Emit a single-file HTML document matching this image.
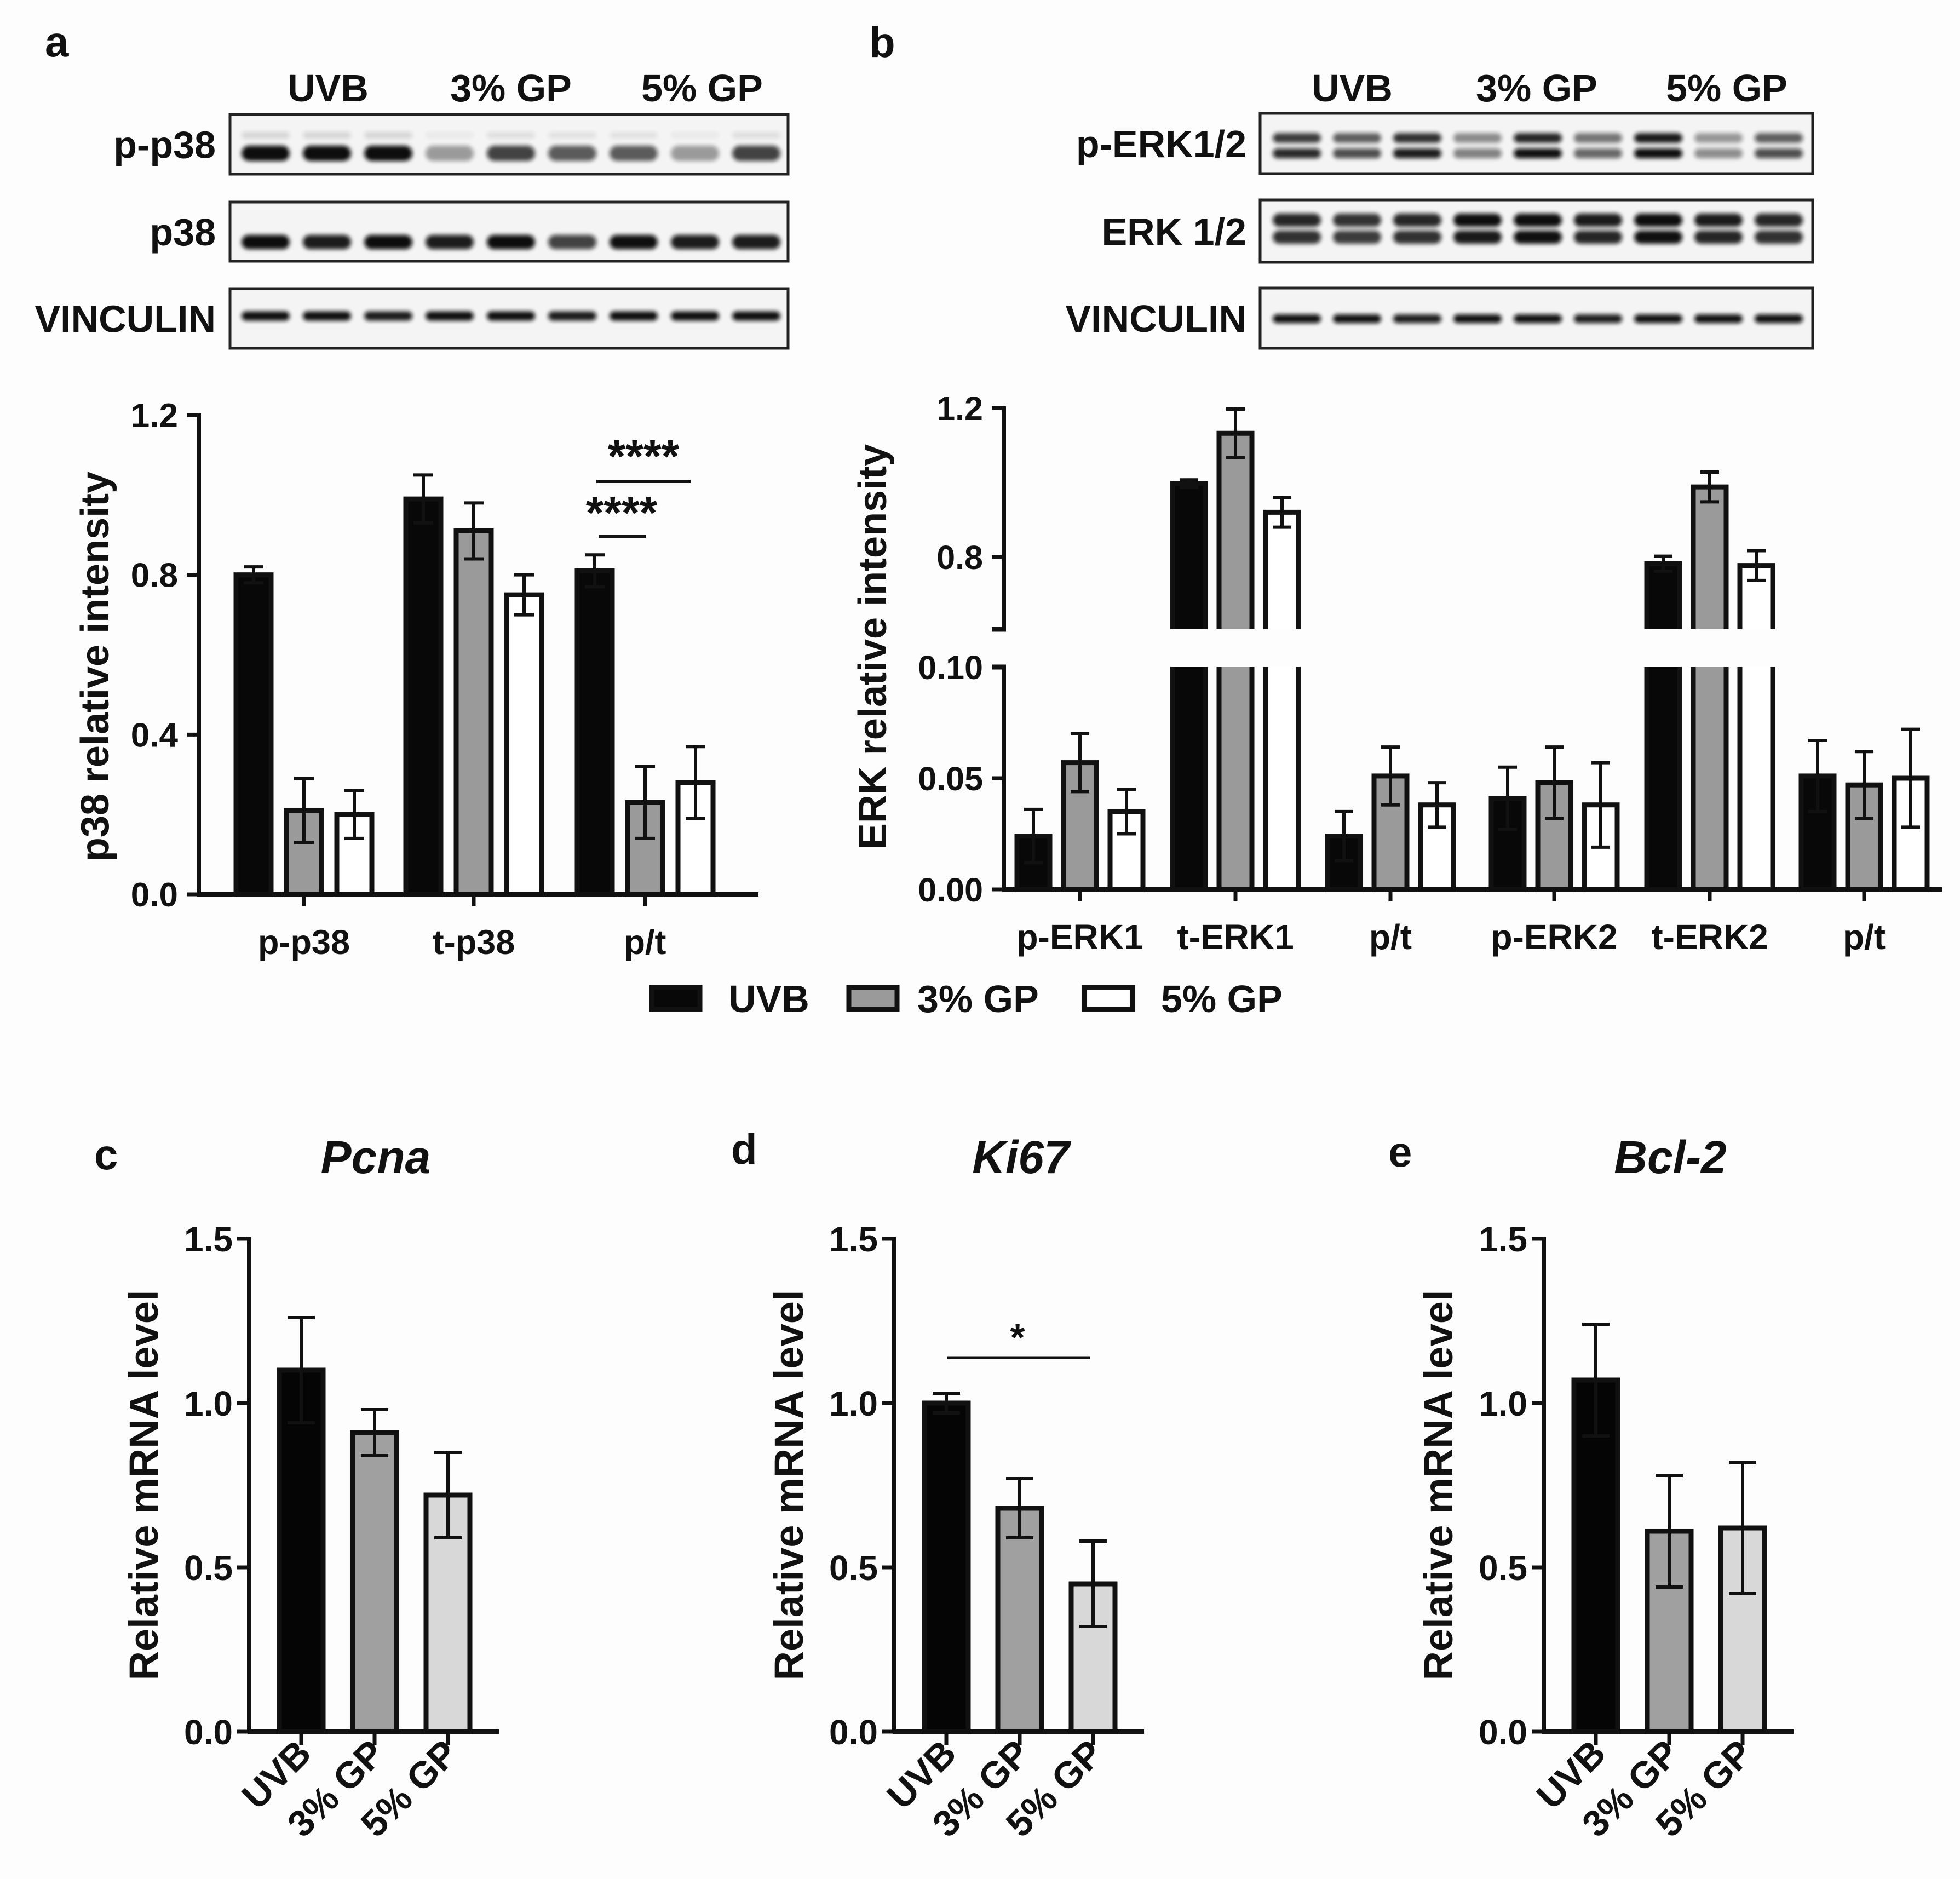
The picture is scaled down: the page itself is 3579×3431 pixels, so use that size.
<!DOCTYPE html>
<html><head><meta charset="utf-8"><style>
html,body{margin:0;padding:0;background:#fff}
svg{display:block}
text{font-family:"Liberation Sans",Arial,sans-serif;font-weight:bold;fill:#111}
</style></head><body>
<svg id="fig" xmlns="http://www.w3.org/2000/svg" width="3579" height="3431" viewBox="0 0 3579 3431">
<defs><filter id="blur" x="-20%" y="-100%" width="140%" height="300%"><feGaussianBlur stdDeviation="4"/></filter></defs>
<rect x="0" y="0" width="3579" height="3431" fill="#fdfdfd"/>
</svg>
<script>
// ---------- data ----------
const groupsA = ["p-p38","t-p38","p/t"];
const uvbA = [0.80,0.99,0.81];
const gp3A = [0.21,0.91,0.23];
const gp5A = [0.20,0.75,0.28];
const uvbAErr = [0.02,0.06,0.04];
const gp3AErr = [0.08,0.07,0.09];
const gp5AErr = [0.06,0.05,0.09];
const ticksA = [0.0,0.4,0.8,1.2];
const tickLabelsA = ["0.0","0.4","0.8","1.2"];

const groupsB = ["p-ERK1","t-ERK1","p/t","p-ERK2","t-ERK2","p/t"];
const uvbB = [0.024,0.997,0.024,0.041,0.782,0.051];
const gp3B = [0.057,1.132,0.051,0.048,0.988,0.047];
const gp5B = [0.035,0.920,0.038,0.038,0.777,0.050];
const uvbBErr = [0.012,0.01,0.011,0.014,0.02,0.016];
const gp3BErr = [0.013,0.065,0.013,0.016,0.04,0.015];
const gp5BErr = [0.010,0.04,0.010,0.019,0.04,0.022];
const ticksBLow = [0.00,0.05,0.10];
const tickLabelsBLow = ["0.00","0.05","0.10"];
const ticksBHigh = [0.8,1.2];
const tickLabelsBHigh = ["0.8","1.2"];

const mrnaCats = ["UVB","3% GP","5% GP"];
const pcnaVals = [1.10,0.91,0.72];
const pcnaErr = [0.16,0.07,0.13];
const ki67Vals = [1.00,0.68,0.45];
const ki67Err = [0.03,0.09,0.13];
const bcl2Vals = [1.07,0.61,0.62];
const bcl2Err = [0.17,0.17,0.20];
const ticksM = [0.0,0.5,1.0,1.5];
const tickLabelsM = ["0.0","0.5","1.0","1.5"];

const blotPp38 = [1,1,1,0.35,0.7,0.6,0.6,0.35,0.7];
const blotP38 = [1,0.85,0.95,0.85,1,0.7,0.9,0.85,0.85];
const blotPerk = [0.8,0.65,0.85,0.45,0.9,0.55,0.95,0.4,0.65];
const blotErk = [0.85,0.8,0.85,0.95,1,0.9,1,0.9,0.85];
const blotVinc = [0.9,0.9,0.85,0.9,0.9,0.85,0.9,0.9,0.9];

// ---------- helpers ----------
const svg = document.getElementById('fig');
const NS = 'http://www.w3.org/2000/svg';
function mk(tag, attrs, parent){
  const e = document.createElementNS(NS, tag);
  for (const k in attrs) e.setAttribute(k, attrs[k]);
  (parent||svg).appendChild(e);
  return e;
}
function txt(s, x, y, size, anchor, parent){
  const t = mk('text', {x:x, y:y, 'font-size':size, 'text-anchor':anchor||'start'}, parent);
  t.textContent = s;
  return t;
}
function line(x1,y1,x2,y2,w,parent){
  return mk('line',{x1:x1,y1:y1,x2:x2,y2:y2,stroke:'#111','stroke-width':w},parent);
}
const FILL = ['#080808','#9a9a9a','#ffffff'];
const FILLM = ['#050505','#a0a0a0','#d8d8d8'];

// ---------- panel letters ----------
[['a',82,103],['b',1587,104],['c',172,2135],['d',1335,2125],['e',2535,2130]].forEach(p=>{
  const t = txt(p[0],p[1],p[2],78,'start');
  
  
});

// ---------- blots ----------
function blotPanel(prefix, boxX, boxW, headerCenters, rows, labelRight, lane0, laneStep){
  const g = mk('g',{});
  
  
  ['UVB','3% GP','5% GP'].forEach((h,i)=>{
    const t = txt(h, headerCenters[i], 185, 70, 'middle', g);
    
    
  });
  rows.forEach(r=>{
    const box = mk('rect',{x:boxX,y:r.y0,width:boxW,height:r.y1-r.y0,fill:'#f4f4f4',stroke:'#222','stroke-width':5},g);
    
    
    const lab = txt(r.label, labelRight, (r.y0+r.y1)/2+25, 70, 'end', g);
    
    
    r.vals.forEach((v,i)=>{
      const cx = lane0 + i*laneStep;
      r.bands.forEach(b=>{
        const band = mk('rect',{x:cx-44,y:b.y-b.h/2,width:88,height:b.h,rx:b.h/2,fill:'#0a0a0a',opacity:Math.min(1,v*b.k*1.1),filter:'url(#blur)'},g);
        
        
      });
    });
  });
}
blotPanel('p38',420,1019,[599,933,1282],[
  {name:'p-p38',label:'p-p38',y0:209,y1:318,vals:blotPp38,bands:[{y:280,h:28,k:1},{y:247,h:12,k:0.12}]},
  {name:'p38',label:'p38',y0:369,y1:477,vals:blotP38,bands:[{y:442,h:26,k:1}]},
  {name:'vinculin',label:'VINCULIN',y0:527,y1:636,vals:blotVinc,bands:[{y:577,h:17,k:1}]}
],394,485,112);
blotPanel('erk',2301,1009,[2469,2806,3153],[
  {name:'p-erk',label:'p-ERK1/2',y0:207,y1:317,vals:blotPerk,bands:[{y:252,h:18,k:0.9},{y:280,h:18,k:1}]},
  {name:'erk',label:'ERK 1/2',y0:365,y1:479,vals:blotErk,bands:[{y:402,h:24,k:0.95},{y:433,h:24,k:0.9}]},
  {name:'vinculin',label:'VINCULIN',y0:526,y1:636,vals:blotVinc,bands:[{y:582,h:16,k:1}]}
],2276,2368,110);

// ---------- panel a chart ----------
(function(){
  const x0=363, y0=1633, yTop=758, xEnd=1385;
  const ya = v => y0 - v*(y0-yTop)/1.2;
  const ticksX = [555,865,1178];
  const g = mk('g',{});
  
  
  const series=[uvbA,gp3A,gp5A], errs=[uvbAErr,gp3AErr,gp5AErr], off=[-92,0,92];
  const names=['uvb','3gp','5gp'];
  groupsA.forEach((c,i)=>{
    series.forEach((s,j)=>{
      const cx = ticksX[i]+off[j], w=64;
      const r = mk('rect',{x:cx-w/2,y:ya(s[i]),width:w,height:y0-ya(s[i]),fill:FILL[j],stroke:'#111','stroke-width':9},g);
      
      
      const e=errs[j][i];
      const eb = mk('path',{d:`M${cx},${ya(s[i]-e)}V${ya(s[i]+e)}M${cx-18},${ya(s[i]+e)}H${cx+18}M${cx-18},${ya(s[i]-e)}H${cx+18}`,stroke:'#111','stroke-width':6,fill:'none'},g);
      
      
    });
    const tk=line(ticksX[i],y0,ticksX[i],y0+22,7,g);
    
    
    const lb=txt(c,ticksX[i],1742,63,'middle',g);
    
    
  });
  const ax=line(x0,yTop-3,x0,y0+3,8,g);
  
  
  const axx=line(x0-3,y0,xEnd,y0,8,g);
  
  
  ticksA.forEach((t,i)=>{
    const tk=line(x0-22,ya(t),x0,ya(t),7,g);
    
    
    const lb=txt(tickLabelsA[i],325,ya(t)+22,62,'end',g);
    
    
  });
  const yt=txt('p38 relative intensity',0,0,72,'middle',g);
  yt.setAttribute('transform','translate(198,1217) rotate(-90)');
  
  
  const s1=line(1089,879,1261,879,6,g);
  
  
  const st1=txt('****',1175,862,84,'middle',g);
  
  
  const s2=line(1093,979,1180,979,6,g);
  
  
  const st2=txt('****',1135,965,84,'middle',g);
  
  
})();

// ---------- panel b chart ----------
(function(){
  const x0=1833, y0=1624, lowTop=1218, upBot=1149, upTop=745, xEnd=3546;
  const yl = v => y0 - v*(y0-lowTop)/0.10;
  const yu = v => 1017 - (v-0.8)*680;
  const ticksX=[1972,2256,2539,2838,3122,3404];
  const g = mk('g',{});
  
  
  const series=[uvbB,gp3B,gp5B], errs=[uvbBErr,gp3BErr,gp5BErr], off=[-85,0,85];
  const names=['uvb','3gp','5gp'];
  groupsB.forEach((c,i)=>{
    series.forEach((s,j)=>{
      const cx=ticksX[i]+off[j], w=60, v=s[i], e=errs[j][i];
      const L=cx-w/2, R=cx+w/2;
      if (v<=0.10){
        const r=mk('rect',{x:L,y:yl(v),width:w,height:y0-yl(v),fill:FILL[j],stroke:'#111','stroke-width':9},g);
        
        
        const eb=mk('path',{d:`M${cx},${yl(v-e)}V${yl(v+e)}M${cx-17},${yl(v+e)}H${cx+17}M${cx-17},${yl(v-e)}H${cx+17}`,stroke:'#111','stroke-width':6,fill:'none'},g);
        
        
      } else {
        const lo=mk('path',{d:`M${L},${lowTop}H${R}V${y0}H${L}Z`,fill:FILL[j],stroke:'none'},g);
        
        
        const lob=mk('path',{d:`M${L},${lowTop}V${y0}M${R},${lowTop}V${y0}`,stroke:'#111','stroke-width':9,fill:'none'},g);
        
        
        const up=mk('path',{d:`M${L},${upBot}V${yu(v)}H${R}V${upBot}`,fill:FILL[j],stroke:'#111','stroke-width':9},g);
        
        
        const eb=mk('path',{d:`M${cx},${yu(v-e)}V${yu(v+e)}M${cx-17},${yu(v+e)}H${cx+17}M${cx-17},${yu(v-e)}H${cx+17}`,stroke:'#111','stroke-width':6,fill:'none'},g);
        
        
      }
    });
    const tk=line(ticksX[i],y0,ticksX[i],y0+22,7,g);
    
    
    const lb=txt(c,ticksX[i],1733,64,'middle',g);
    
    
  });
  const a1=line(x0,upTop-3,x0,upBot,8,g);
  
  
  const a2=line(x0,lowTop,x0,y0+3,8,g);
  
  
  const c1=line(x0-22,upBot,x0+4,upBot,9,g);
  
  
  const c2=line(x0-22,lowTop,x0+4,lowTop,9,g);
  
  
  const ax=line(x0-3,y0,xEnd,y0,8,g);
  
  
  ticksBLow.forEach((t,i)=>{
    const tk=line(x0-22,yl(t),x0,yl(t),7,g);
    
    
    const lb=txt(tickLabelsBLow[i],1795,yl(t)+22,61,'end',g);
    
    
  });
  ticksBHigh.forEach((t,i)=>{
    const tk=line(x0-22,yu(t),x0,yu(t),7,g);
    
    
    const lb=txt(tickLabelsBHigh[i],1795,yu(t)+22,61,'end',g);
    
    
  });
  const yt=txt('ERK relative intensity',0,0,72,'middle',g);
  yt.setAttribute('transform','translate(1618,1181) rotate(-90)');
  
  
})();

// ---------- legend ----------
(function(){
  const g=mk('g',{});
  
  
  const items=[['UVB',1190,1330],['3% GP',1550,1675],['5% GP',1980,2120]];
  items.forEach((it,j)=>{
    const r=mk('rect',{x:it[1],y:1803,width:88,height:40,fill:FILL[j],stroke:'#111','stroke-width':9},g);
    
    
    const t=txt(it[0],it[2],1848,70,'start',g);
    
    
  });
})();

// ---------- mRNA panels ----------
function mrnaPanel(key, title, axX, vals, errs, sig){
  const y0=3162, yTop=2262;
  const ym = v => y0 - v*(y0-yTop)/1.5;
  const g=mk('g',{});
  
  
  const tt=txt(title,axX+231,2142,84,'middle',g);
  tt.setAttribute('font-style','italic');
  
  
  mrnaCats.forEach((c,j)=>{
    const cx=axX+95+j*134, w=80, v=vals[j], e=errs[j];
    const r=mk('rect',{x:cx-w/2,y:ym(v),width:w,height:y0-ym(v),fill:FILLM[j],stroke:'#111','stroke-width':9},g);
    
    
    const eb=mk('path',{d:`M${cx},${ym(v-e)}V${ym(v+e)}M${cx-25},${ym(v+e)}H${cx+25}M${cx-25},${ym(v-e)}H${cx+25}`,stroke:'#111','stroke-width':6,fill:'none'},g);
    
    
    const tk=line(cx,y0,cx,y0+24,7,g);
    
    
    const lb=txt(c,0,0,68,'end',g);
    lb.setAttribute('transform',`translate(${cx+22},${y0+44}) rotate(-45)`);
    
    
  });
  const ay=line(axX,yTop-3,axX,y0+3,8,g);
  
  
  const axx=line(axX-3,y0,axX+456,y0,8,g);
  
  
  ticksM.forEach((t,i)=>{
    const tk=line(axX-22,ym(t),axX,ym(t),7,g);
    
    
    const lb=txt(tickLabelsM[i],axX-30,ym(t)+23,64,'end',g);
    
    
  });
  const yt=txt('Relative mRNA level',0,0,74,'middle',g);
  yt.setAttribute('transform',`translate(${axX-167},2712) rotate(-90)`);
  
  
  if (sig){
    const sl=line(axX+96,2479,axX+358,2479,5,g);
    
    
    const st=txt('*',axX+225,2466,70,'middle',g);
    st.setAttribute('font-weight','normal');
    
    
  }
}
mrnaPanel('pcna','Pcna',455,pcnaVals,pcnaErr,false);
mrnaPanel('ki67','Ki67',1633,ki67Vals,ki67Err,true);
mrnaPanel('bcl2','Bcl-2',2819,bcl2Vals,bcl2Err,false);
</script>
</body></html>
